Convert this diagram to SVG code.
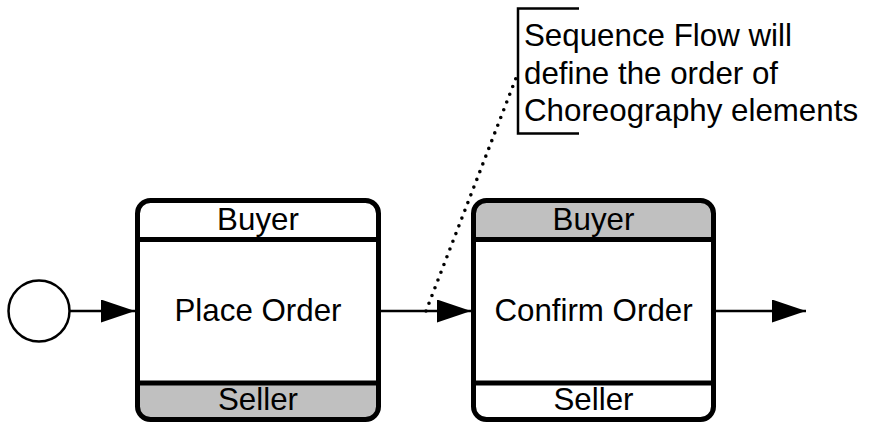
<svg xmlns="http://www.w3.org/2000/svg" width="869" height="423" viewBox="0 0 869 423">
<style>
.txt{font-family:"Liberation Sans",Arial,sans-serif;font-size:31.3px;fill:#000}
.mid{text-anchor:middle}
.border{fill:none;stroke:#000;stroke-width:5}
.div{stroke:#000;stroke-width:5}
.band{fill:#c0c0c0}
.flow{fill:none;stroke:#000;stroke-width:2.5}
.assoc{fill:none;stroke:#000;stroke-width:3.6;stroke-linecap:round;stroke-dasharray:0 8.3}
</style>
<defs>
<marker id="arrow" markerUnits="userSpaceOnUse" markerWidth="35" markerHeight="24" refX="34" refY="11.5" orient="auto">
<path d="M0,0 L34,11.5 L0,23 Z" fill="#000"/>
</marker>
</defs>
<g id="start">
<circle cx="39" cy="311" r="30.5" fill="#fff" stroke="#000" stroke-width="2.5"/>
</g>
<g id="task-place-order">
<rect x="137.5" y="200.5" width="241" height="219" rx="13" fill="#fff"/>
<path class="band" d="M137.5,383 H378.5 V406.5 A13,13 0 0 1 365.5,419.5 H150.5 A13,13 0 0 1 137.5,406.5 Z"/>
<line class="div" x1="137.5" y1="239.5" x2="378.5" y2="239.5"/>
<line class="div" x1="137.5" y1="383" x2="378.5" y2="383"/>
<rect class="border" x="137.5" y="200.5" width="241" height="219" rx="13"/>
<text class="txt mid" x="258" y="230">Buyer</text>
<text class="txt mid" x="258" y="321">Place Order</text>
<text class="txt mid" x="258" y="410">Seller</text>
</g>
<g id="task-confirm-order">
<rect x="473.5" y="200.5" width="240" height="219" rx="13" fill="#fff"/>
<path class="band" d="M473.5,239.5 V213.5 A13,13 0 0 1 486.5,200.5 H700.5 A13,13 0 0 1 713.5,213.5 V239.5 Z"/>
<line class="div" x1="473.5" y1="239.5" x2="713.5" y2="239.5"/>
<line class="div" x1="473.5" y1="383" x2="713.5" y2="383"/>
<rect class="border" x="473.5" y="200.5" width="240" height="219" rx="13"/>
<text class="txt mid" x="593.5" y="230">Buyer</text>
<text class="txt mid" x="593.5" y="321">Confirm Order</text>
<text class="txt mid" x="593.5" y="410">Seller</text>
</g>
<g id="annotation">
<path d="M579,8.5 H518 V133.5 H579" fill="none" stroke="#000" stroke-width="2.5"/>
<text class="txt" x="524" y="46">Sequence Flow will</text>
<text class="txt" x="524" y="83.5">define the order of</text>
<text class="txt" x="524" y="121">Choreography elements</text>
</g>
<g id="connectors">
<line class="flow" x1="69.5" y1="311" x2="135" y2="311" marker-end="url(#arrow)"/>
<line class="flow" x1="381" y1="311" x2="471" y2="311" marker-end="url(#arrow)"/>
<line class="flow" x1="716" y1="311" x2="806" y2="311" marker-end="url(#arrow)"/>
<line class="assoc" x1="426" y1="311" x2="516" y2="78"/>
</g>
</svg>
